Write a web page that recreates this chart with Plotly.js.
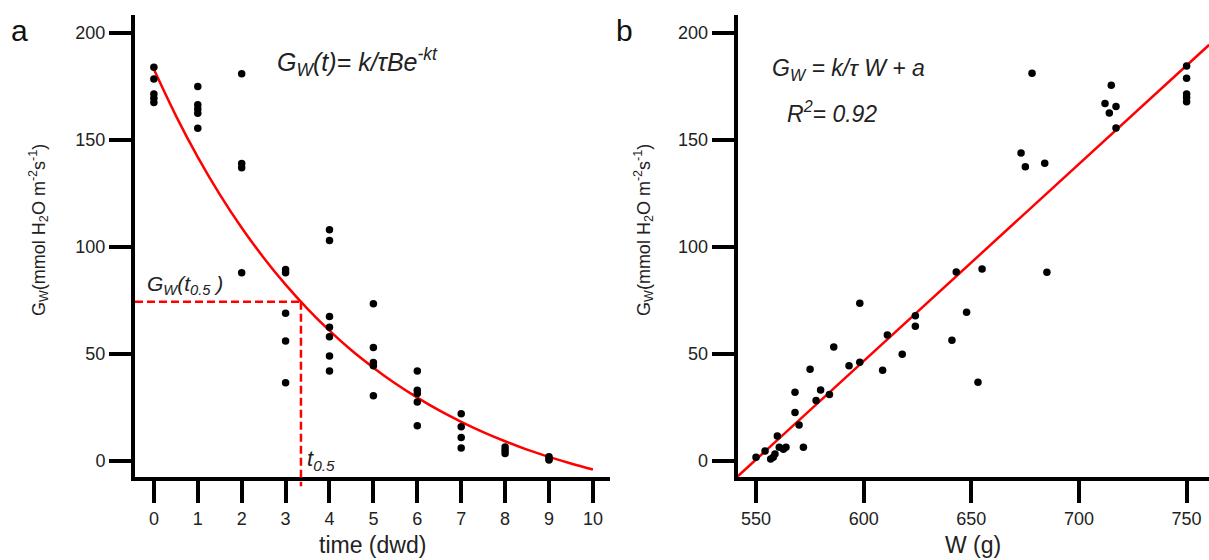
<!DOCTYPE html>
<html>
<head>
<meta charset="utf-8">
<script src="https://cdn.plot.ly/plotly-3.0.1.min.js"></script>
<style>html,body{margin:0;padding:0;background:#fff;}#chart{width:1209px;height:560px;}</style>
</head>
<body>
<div id="chart"></div>
<script>
// ---- Panel a: Gw vs time (dwd) ----
var timeX = [0,0,0,0,0, 1,1,1,1,1, 2,2,2,2, 3,3,3,3,3, 4,4,4,4,4,4,4, 5,5,5,5,5, 6,6,6,6,6, 7,7,7,7, 8,8,8, 9,9,9];
var timeG = [184,178.5,171.5,169.5,167.5, 175,166.5,164.5,162.5,155.5, 181,139,137,88, 89.5,88,69,56,36.5, 108,103,67.5,62.5,58,49,42, 73.5,53,46,44.5,30.5, 42,33,31.5,27.5,16.5, 22,16,11,6, 6.5,5,3.5, 2,1,0.5];

// fitted exponential curve
var curveT = [0,0.5,1,1.5,2,2.5,3,3.5,4,4.5,5,5.5,6,6.5,7,7.5,8,8.5,9,9.5,10];
var curveG = [183,161.4,142,124.6,109,95,82.4,71.1,60.9,51.7,43.6,36.2,29.6,23.6,18.3,13.5,9.2,5.3,1.9,-1.2,-4];

var tHalf = 3.35;
var gHalf = 74.4;

// ---- Panel b: Gw vs W (g) ----
var massW = [550,554.2,556.8,558.0,558.8,559.9,560.8,562.7,563.9,568.1,568.1,570.0,572.0,575.1,577.9,580.0,584.1,586.1,593.2,598.2,598.2,608.8,611.0,617.9,624.0,624.0,641.0,643.0,647.8,653.1,655.0,673.1,675.1,678.2,684.1,685.1,712.1,714.1,715.0,717.2,717.2,750,750,750,750,750];
var massG = [1.7,4.7,0.9,1.7,3.3,11.7,6.4,5.5,6.4,32.1,22.6,16.8,6.4,42.8,28.2,33.2,31.0,53.3,44.5,73.7,46.1,42.4,58.9,49.9,67.9,62.9,56.4,88.3,69.5,36.8,89.7,143.9,137.5,181.2,139.1,88.2,167.0,162.6,175.6,165.6,155.6,184.6,178.8,171.5,169.8,167.9];

var fitW = [541.5, 760.5];
var fitG = [-7.2, 194.5];

var yTicks = [0,50,100,150,200];
var xTicksA = [0,1,2,3,4,5,6,7,8,9,10];
var xTicksB = [550,600,650,700,750];

var FONT = 'Arial, "Liberation Sans", Helvetica, sans-serif';
var TXT = '#222';
var yRange = [-7.5, 208.4];
var xRangeA = [-0.43, 10.39];
var xRangeB = [541.5, 760.4];

function axisBase(extra){
  var a = {
    showline:true, linewidth:4, linecolor:'#000',
    ticks:'outside', ticklen:22, tickwidth:4, tickcolor:'#000',
    showgrid:false, zeroline:false,
    tickfont:{family:FONT, size:18, color:TXT}
  };
  for (var k in extra) a[k] = extra[k];
  return a;
}

var traces = [
  {x:curveT, y:curveG, xaxis:'x', yaxis:'y', mode:'lines', type:'scatter',
   line:{color:'#ff0000', width:2.5, shape:'spline'}, hoverinfo:'skip'},
  {x:timeX, y:timeG, xaxis:'x', yaxis:'y', mode:'markers', type:'scatter',
   marker:{color:'#000', size:7.5}, cliponaxis:false},
  {x:fitW, y:fitG, xaxis:'x2', yaxis:'y2', mode:'lines', type:'scatter',
   line:{color:'#ff0000', width:2.5}},
  {x:massW, y:massG, xaxis:'x2', yaxis:'y2', mode:'markers', type:'scatter',
   marker:{color:'#000', size:7.5}, cliponaxis:false}
];

var gHalfPaper = (gHalf - yRange[0]) / (yRange[1] - yRange[0]);

var layout = {
  width:1209, height:560,
  margin:{l:135, r:0, t:15, b:83},
  paper_bgcolor:'#fff', plot_bgcolor:'#fff',
  showlegend:false,
  font:{family:FONT, color:TXT},
  xaxis: axisBase({domain:[0,0.4423], range:xRangeA, tickvals:xTicksA, anchor:'y'}),
  yaxis: axisBase({domain:[0,1], range:yRange, tickvals:yTicks, anchor:'x'}),
  xaxis2: axisBase({domain:[0.5612,1], range:xRangeB, tickvals:xTicksB, anchor:'y2'}),
  yaxis2: axisBase({domain:[0,1], range:yRange, tickvals:yTicks, anchor:'x2'}),
  shapes:[
    {type:'line', xref:'x', yref:'y', x0:xRangeA[0], x1:tHalf, y0:gHalf, y1:gHalf,
     line:{color:'#ff0000', width:2.5, dash:'8px,4px'}},
    {type:'line', xref:'x', yref:'paper', x0:tHalf, x1:tHalf, y0:gHalfPaper, y1:-0.02,
     line:{color:'#ff0000', width:2.5, dash:'8px,4px'}}
  ],
  annotations:[
    {xref:'paper', yref:'paper', x:-0.1071, y:0.9675, text:'a', showarrow:false,
     xanchor:'center', yanchor:'middle', font:{family:FONT, size:30, color:'#111'}},
    {xref:'paper', yref:'paper', x:0.4562, y:0.9675, text:'b', showarrow:false,
     xanchor:'center', yanchor:'middle', font:{family:FONT, size:30, color:'#111'}},
    {xref:'paper', yref:'paper', x:0.1303, y:0.898, showarrow:false, xanchor:'left', yanchor:'middle',
     text:'<i>G<sub>W</sub>(t)= k/τBe<sup>-kt</sup></i>', font:{family:FONT, size:25, color:TXT}},
    {xref:'paper', yref:'paper', x:0.5912, y:0.881, showarrow:false, xanchor:'left', yanchor:'middle',
     text:'<i>G<sub>W</sub> = k/τ W + a</i>', font:{family:FONT, size:23, color:TXT}},
    {xref:'paper', yref:'paper', x:0.6052, y:0.790, showarrow:false, xanchor:'left', yanchor:'middle',
     text:'<i>R<sup>2</sup>= 0.92</i>', font:{family:FONT, size:23, color:TXT}},
    {xref:'paper', yref:'paper', x:0.0093, y:0.4156, showarrow:false, xanchor:'left', yanchor:'middle',
     text:'<i>G<sub>W</sub>(t<sub>0.5</sub> )</i>', font:{family:FONT, size:21, color:TXT}},
    {xref:'paper', yref:'paper', x:0.1583, y:0.0368, showarrow:false, xanchor:'left', yanchor:'middle',
     text:'<i>t<sub>0.5</sub></i>', font:{family:FONT, size:22, color:TXT}},
    {xref:'paper', yref:'paper', x:-0.0903, y:0.5346, showarrow:false, xanchor:'center', yanchor:'middle', textangle:-90,
     text:'G<sub>W</sub>(mmol H<sub>2</sub>O m<sup>-2</sup>s<sup>-1</sup>)', font:{family:FONT, size:18, color:TXT}},
    {xref:'paper', yref:'paper', x:0.473, y:0.5346, showarrow:false, xanchor:'center', yanchor:'middle', textangle:-90,
     text:'G<sub>W</sub>(mmol H<sub>2</sub>O m<sup>-2</sup>s<sup>-1</sup>)', font:{family:FONT, size:18, color:TXT}},
    {xref:'paper', yref:'paper', x:0.2212, y:-0.147, showarrow:false, xanchor:'center', yanchor:'middle',
     text:'time (dwd)', font:{family:FONT, size:23, color:TXT}},
    {xref:'paper', yref:'paper', x:0.7803, y:-0.147, showarrow:false, xanchor:'center', yanchor:'middle',
     text:'W (g)', font:{family:FONT, size:23, color:TXT}}
  ]
};

Plotly.newPlot('chart', traces, layout, {displayModeBar:false, staticPlot:true});
</script>
</body>
</html>
